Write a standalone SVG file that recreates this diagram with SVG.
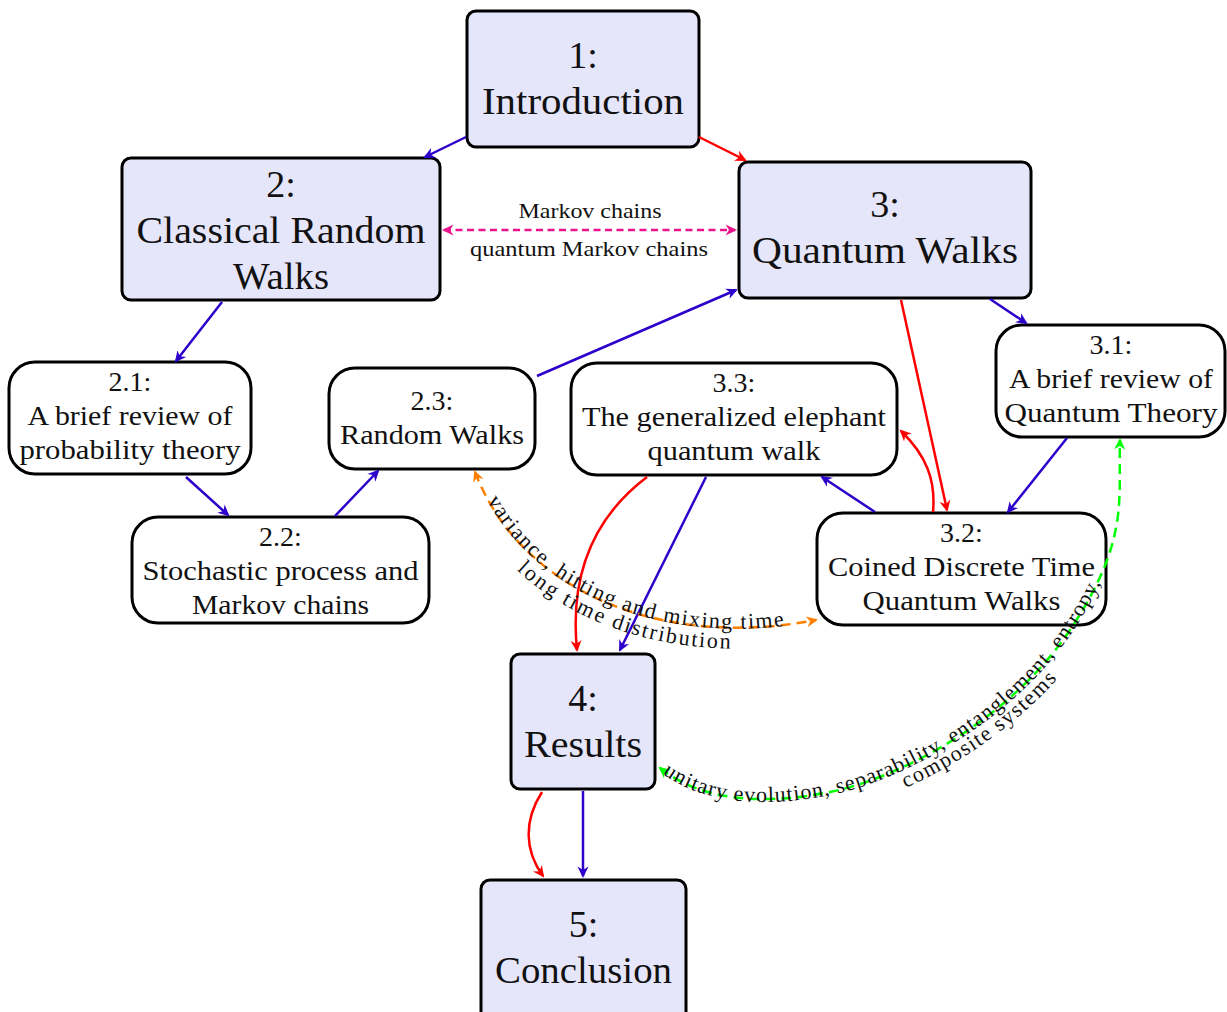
<svg xmlns="http://www.w3.org/2000/svg" width="1227" height="1012" viewBox="0 0 1227 1012" font-family="'Liberation Serif', 'Times New Roman', serif">
<style>
.main rect{fill:#e6e6fa;stroke:#000;stroke-width:3}
.sub rect{fill:#fff;stroke:#000;stroke-width:3}
text{font-family:'Liberation Serif','Times New Roman',serif;fill:#111;text-anchor:middle}
.main text{font-size:38px}
.sub text{font-size:28px}
.lbl{font-size:22px}
.e{fill:none;stroke-width:2.5}
.b{stroke:#2d00cc}
.r{stroke:#ff0000}
.p{stroke:#ec128c;stroke-dasharray:7 4.5}
.o{stroke:#ff8000;stroke-dasharray:10 6}
.g{stroke:#00ff00;stroke-dasharray:10 6}
</style>
<defs>
<marker id="mb" viewBox="-12 -6 15 12" markerWidth="15" markerHeight="12" refX="0" refY="0" orient="auto-start-reverse" markerUnits="userSpaceOnUse"><path d="M2,0 L-9.5,-5.5 L-6,0 L-9.5,5.5 Z" fill="#2d00cc"/></marker>
<marker id="mr" viewBox="-12 -6 15 12" markerWidth="15" markerHeight="12" refX="0" refY="0" orient="auto-start-reverse" markerUnits="userSpaceOnUse"><path d="M2,0 L-9.5,-5.5 L-6,0 L-9.5,5.5 Z" fill="#ff0000"/></marker>
<marker id="mp" viewBox="-12 -6 15 12" markerWidth="15" markerHeight="12" refX="0" refY="0" orient="auto-start-reverse" markerUnits="userSpaceOnUse"><path d="M2,0 L-9.5,-5.5 L-6,0 L-9.5,5.5 Z" fill="#ec128c"/></marker>
<marker id="mo" viewBox="-12 -6 15 12" markerWidth="15" markerHeight="12" refX="0" refY="0" orient="auto-start-reverse" markerUnits="userSpaceOnUse"><path d="M2,0 L-9.5,-5.5 L-6,0 L-9.5,5.5 Z" fill="#ff8000"/></marker>
<marker id="mg" viewBox="-12 -6 15 12" markerWidth="15" markerHeight="12" refX="0" refY="0" orient="auto-start-reverse" markerUnits="userSpaceOnUse"><path d="M2,0 L-9.5,-5.5 L-6,0 L-9.5,5.5 Z" fill="#00ff00"/></marker>
<path id="po" d="M475,472 C520,590 660,650 816,620"/>
<path id="pg" d="M660,768 C700,800 760,806 830,792 S1010,720 1070,630 S1118,500 1120,440"/>
</defs>

<g id="n1" class="main">
<rect x="467" y="11" width="232" height="136" rx="9"/>
<text x="583" y="68">1:</text>
<text x="583" y="114" textLength="202" lengthAdjust="spacingAndGlyphs">Introduction</text>
</g>
<g id="n2" class="main">
<rect x="122" y="158" width="318" height="142" rx="9"/>
<text x="281" y="197">2:</text>
<text x="281" y="243" textLength="289" lengthAdjust="spacingAndGlyphs">Classical Random</text>
<text x="281" y="289" textLength="96" lengthAdjust="spacingAndGlyphs">Walks</text>
</g>
<g id="n3" class="main">
<rect x="739" y="162" width="292" height="136" rx="9"/>
<text x="885" y="217">3:</text>
<text x="885" y="263" textLength="266" lengthAdjust="spacingAndGlyphs">Quantum Walks</text>
</g>
<g id="n4" class="main">
<rect x="511" y="654" width="144" height="135" rx="9"/>
<text x="583" y="711">4:</text>
<text x="583" y="757" textLength="118" lengthAdjust="spacingAndGlyphs">Results</text>
</g>
<g id="n5" class="main">
<rect x="481" y="880" width="205" height="145" rx="9"/>
<text x="583.5" y="937">5:</text>
<text x="583.5" y="983" textLength="177" lengthAdjust="spacingAndGlyphs">Conclusion</text>
</g>
<g id="n21" class="sub">
<rect x="9" y="362" width="242" height="112" rx="26"/>
<text x="130" y="391">2.1:</text>
<text x="130" y="425" textLength="205" lengthAdjust="spacingAndGlyphs">A brief review of</text>
<text x="130" y="459" textLength="221" lengthAdjust="spacingAndGlyphs">probability theory</text>
</g>
<g id="n22" class="sub">
<rect x="132" y="517" width="297" height="106" rx="26"/>
<text x="280.5" y="546">2.2:</text>
<text x="280.5" y="580" textLength="276" lengthAdjust="spacingAndGlyphs">Stochastic process and</text>
<text x="280.5" y="614" textLength="177" lengthAdjust="spacingAndGlyphs">Markov chains</text>
</g>
<g id="n23" class="sub">
<rect x="329" y="368" width="206" height="101" rx="26"/>
<text x="432" y="410">2.3:</text>
<text x="432" y="444" textLength="184" lengthAdjust="spacingAndGlyphs">Random Walks</text>
</g>
<g id="n31" class="sub">
<rect x="996" y="325" width="229" height="112" rx="26"/>
<text x="1111" y="354">3.1:</text>
<text x="1111" y="388" textLength="204" lengthAdjust="spacingAndGlyphs">A brief review of</text>
<text x="1111" y="422" textLength="213" lengthAdjust="spacingAndGlyphs">Quantum Theory</text>
</g>
<g id="n32" class="sub">
<rect x="817" y="513" width="289" height="112" rx="26"/>
<text x="961.5" y="542">3.2:</text>
<text x="961.5" y="576" textLength="267" lengthAdjust="spacingAndGlyphs">Coined Discrete Time</text>
<text x="961.5" y="610" textLength="198" lengthAdjust="spacingAndGlyphs">Quantum Walks</text>
</g>
<g id="n33" class="sub">
<rect x="571" y="363" width="326" height="112" rx="26"/>
<text x="734" y="392">3.3:</text>
<text x="734" y="426" textLength="304" lengthAdjust="spacingAndGlyphs">The generalized elephant</text>
<text x="734" y="460" textLength="173" lengthAdjust="spacingAndGlyphs">quantum walk</text>
</g>

<g id="connectors">
<path class="e b" d="M466,137 L425,157" marker-end="url(#mb)"/>
<path class="e r" d="M699,137 L745,160" marker-end="url(#mr)"/>
<path class="e b" d="M222,302 L176,361" marker-end="url(#mb)"/>
<path class="e b" d="M186,477 L228,515" marker-end="url(#mb)"/>
<path class="e b" d="M335,516 L378,471" marker-end="url(#mb)"/>
<path class="e b" d="M537,376 L736,290" marker-end="url(#mb)"/>
<path class="e b" d="M990,299 L1026,323" marker-end="url(#mb)"/>
<path class="e r" d="M901,300 L947,510" marker-end="url(#mr)"/>
<path class="e r" d="M933,512 C936,480 926,455 901,431" marker-end="url(#mr)"/>
<path class="e b" d="M875,512 L822,477" marker-end="url(#mb)"/>
<path class="e b" d="M1067,438 L1008,512" marker-end="url(#mb)"/>
<path class="e r" d="M647,477 C590,520 570,580 577,650" marker-end="url(#mr)"/>
<path class="e b" d="M706,477 L620,650" marker-end="url(#mb)"/>
<path class="e r" d="M542,792 C524,820 524,850 543,876" marker-end="url(#mr)"/>
<path class="e b" d="M583,791 L583,876" marker-end="url(#mb)"/>
<path class="e p" d="M444,230 L735,230" marker-start="url(#mp)" marker-end="url(#mp)"/>
<text class="lbl" x="590" y="218" textLength="143" lengthAdjust="spacingAndGlyphs">Markov chains</text>
<text class="lbl" x="589" y="256" textLength="238" lengthAdjust="spacingAndGlyphs">quantum Markov chains</text>
<use href="#po" class="e o" marker-start="url(#mo)" marker-end="url(#mo)"/>
<text class="lbl"><textPath href="#po" startOffset="50%" style="letter-spacing:1.5px"><tspan dy="1">variance, hitting and mixing time</tspan></textPath></text>
<text class="lbl"><textPath href="#po" startOffset="52%" style="letter-spacing:1.3px"><tspan dy="21">long time distribution</tspan></textPath></text>
<use href="#pg" class="e g" marker-start="url(#mg)" marker-end="url(#mg)"/>
<text class="lbl" style="text-anchor:start"><textPath href="#pg" startOffset="5" style="letter-spacing:0.9px"><tspan dy="3">unitary evolution, separability, entanglement, entropy,</tspan></textPath></text>
<text class="lbl" style="text-anchor:start"><textPath href="#pg" startOffset="248" style="letter-spacing:0.9px"><tspan dy="20">composite systems</tspan></textPath></text>
</g>
</svg>
